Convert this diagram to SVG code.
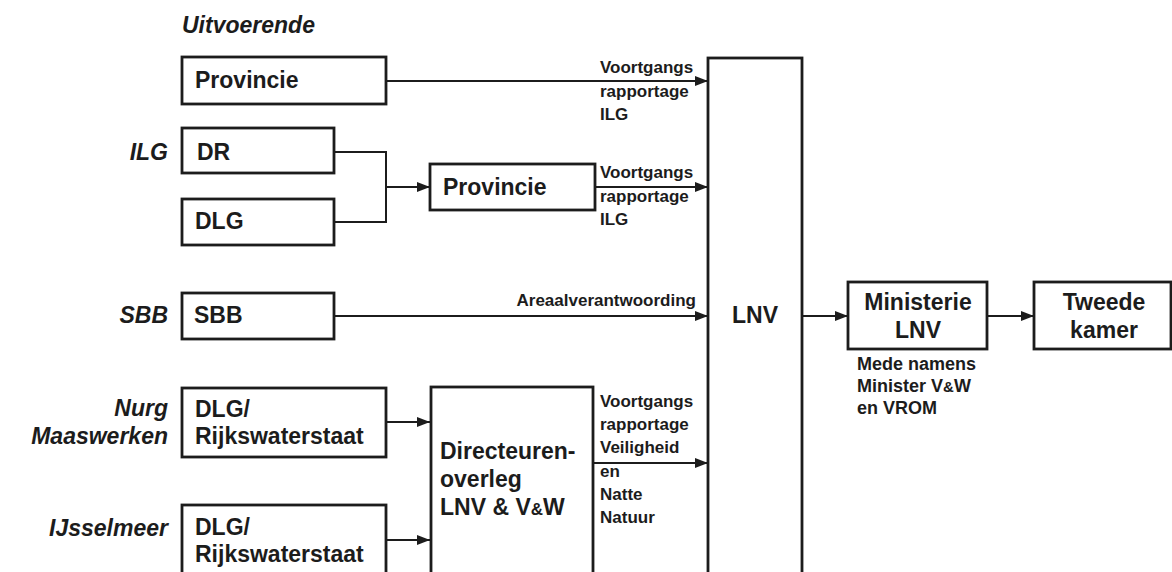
<svg xmlns="http://www.w3.org/2000/svg" width="1172" height="572" viewBox="0 0 1172 572">
<style>
.box{fill:#fff;stroke:#1c1c1c;stroke-width:2.8}
.t{font-family:"Liberation Sans",Arial,sans-serif;font-weight:700;font-size:23px;fill:#1c1c1c}
.s{font-family:"Liberation Sans",Arial,sans-serif;font-weight:700;font-size:17px;fill:#1c1c1c}
.m{font-size:18px}
.it{font-family:"Liberation Sans",Arial,sans-serif;font-weight:700;font-style:italic;font-size:23px;fill:#1c1c1c}
.c{fill:none;stroke:#1c1c1c;stroke-width:2}
.mid{text-anchor:middle}
.end{text-anchor:end}
</style>
<defs>
<marker id="ah" markerUnits="userSpaceOnUse" markerWidth="14" markerHeight="10" refX="13" refY="5" orient="auto">
<path d="M0,0 L13,5 L0,10 Z" fill="#1c1c1c"/>
</marker>
</defs>
<rect width="1172" height="572" fill="#fff"/>

<g id="labels">
<text class="it" x="182" y="33">Uitvoerende</text>
<text class="it end" x="168" y="160">ILG</text>
<text class="it end" x="168" y="323">SBB</text>
<text class="it end" x="168" y="416">Nurg</text>
<text class="it end" x="168" y="444">Maaswerken</text>
<text class="it end" x="168" y="536">IJsselmeer</text>
</g>

<g id="connectors">
<line class="c" x1="386" y1="81" x2="708" y2="81" marker-end="url(#ah)"/>
<polyline class="c" points="334,152 386,152 386,222 334,222"/>
<line class="c" x1="386" y1="187" x2="430" y2="187" marker-end="url(#ah)"/>
<line class="c" x1="595" y1="187" x2="708" y2="187" marker-end="url(#ah)"/>
<line class="c" x1="334" y1="316" x2="708" y2="316" marker-end="url(#ah)"/>
<line class="c" x1="386" y1="422" x2="430" y2="422" marker-end="url(#ah)"/>
<line class="c" x1="386" y1="540" x2="430" y2="540" marker-end="url(#ah)"/>
<line class="c" x1="593" y1="463" x2="708" y2="463" marker-end="url(#ah)"/>
<line class="c" x1="802" y1="316" x2="848" y2="316" marker-end="url(#ah)"/>
<line class="c" x1="987" y1="316" x2="1034" y2="316" marker-end="url(#ah)"/>
<text class="s" x="600" y="73">Voortgangs</text>
<text class="s" x="600" y="97">rapportage</text>
<text class="s" x="600" y="120">ILG</text>
<text class="s" x="600" y="178">Voortgangs</text>
<text class="s" x="600" y="202">rapportage</text>
<text class="s" x="600" y="225">ILG</text>
<text class="s end" x="696" y="306">Areaalverantwoording</text>
<text class="s" x="600" y="407">Voortgangs</text>
<text class="s" x="600" y="430">rapportage</text>
<text class="s" x="600" y="453">Veiligheid</text>
<text class="s" x="600" y="477">en</text>
<text class="s" x="600" y="500">Natte</text>
<text class="s" x="600" y="523">Natuur</text>
<text class="s m" x="857" y="370">Mede namens</text>
<text class="s m" x="857" y="392">Minister V<tspan font-size="15">&amp;</tspan>W</text>
<text class="s m" x="857" y="414">en VROM</text>
</g>

<g id="provincie1">
<rect class="box" x="182" y="57" width="204" height="47"/>
<text class="t" x="195" y="88">Provincie</text>
</g>
<g id="dr">
<rect class="box" x="182" y="128" width="152" height="45"/>
<text class="t" x="197" y="160">DR</text>
</g>
<g id="dlg">
<rect class="box" x="182" y="199" width="152" height="46"/>
<text class="t" x="195" y="229">DLG</text>
</g>
<g id="provincie2">
<rect class="box" x="430" y="164" width="165" height="46"/>
<text class="t" x="443" y="195">Provincie</text>
</g>
<g id="sbb">
<rect class="box" x="182" y="293" width="152" height="46"/>
<text class="t" x="194" y="323">SBB</text>
</g>
<g id="rws1">
<rect class="box" x="182" y="388" width="204" height="69"/>
<text class="t" x="195" y="417">DLG/</text>
<text class="t" x="195" y="444">Rijkswaterstaat</text>
</g>
<g id="rws2">
<rect class="box" x="182" y="505" width="204" height="90"/>
<text class="t" x="195" y="535">DLG/</text>
<text class="t" x="195" y="562">Rijkswaterstaat</text>
</g>
<g id="directeuren">
<rect class="box" x="431" y="387" width="162" height="210"/>
<text class="t" x="440" y="459">Directeuren-</text>
<text class="t" x="440" y="487">overleg</text>
<text class="t" x="440" y="515">LNV &amp; V<tspan font-size="17">&amp;</tspan>W</text>
</g>
<g id="lnv">
<rect class="box" x="708" y="58" width="94" height="540"/>
<text class="t mid" x="755" y="323">LNV</text>
</g>
<g id="ministerie">
<rect class="box" x="848" y="282" width="139" height="67"/>
<text class="t mid" x="918" y="310">Ministerie</text>
<text class="t mid" x="918" y="338">LNV</text>
</g>
<g id="tweede">
<rect class="box" x="1034" y="282" width="137" height="67"/>
<text class="t mid" x="1104" y="310">Tweede</text>
<text class="t mid" x="1104" y="338">kamer</text>
</g>
</svg>
